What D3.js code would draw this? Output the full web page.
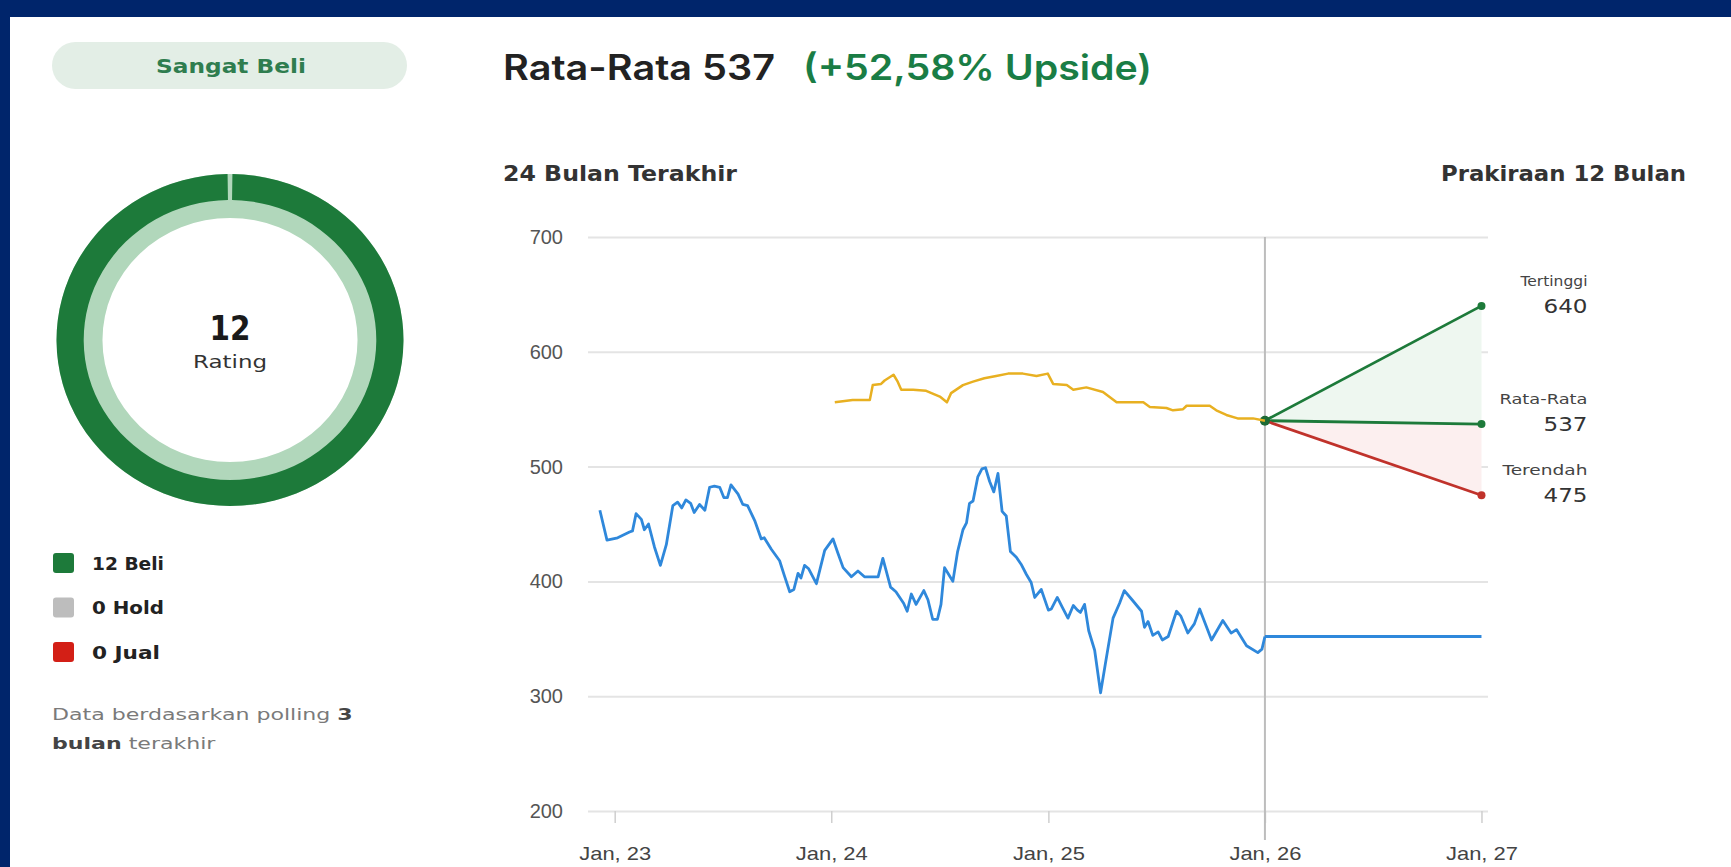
<!DOCTYPE html>
<html>
<head>
<meta charset="utf-8">
<script src="https://cdnjs.cloudflare.com/ajax/libs/d3/7.8.5/d3.min.js"></script>
<style>
  html, body { margin: 0; padding: 0; background: #00256b; }
  svg { display: block; }
</style>
</head>
<body>
<svg id="chart" width="1731" height="867"></svg>
<script>
// ---- data ----
var priceDates = ["2022-12-07","2022-12-19","2023-01-06","2023-01-26","2023-01-31","2023-02-06","2023-02-15","2023-02-20","2023-02-27","2023-03-09",
  "2023-03-19","2023-03-29","2023-04-09","2023-04-17","2023-04-24","2023-05-01","2023-05-09","2023-05-15","2023-05-24","2023-06-02",
  "2023-06-10","2023-06-18","2023-06-27","2023-07-04","2023-07-10","2023-07-16","2023-07-28","2023-08-05","2023-08-13","2023-08-25",
  "2023-09-05","2023-09-10","2023-09-22","2023-10-06","2023-10-14","2023-10-23","2023-10-30","2023-11-06","2023-11-11","2023-11-17",
  "2023-11-24","2023-12-07","2023-12-21","2024-01-04","2024-01-12","2024-01-21","2024-02-04","2024-02-15","2024-02-26","2024-03-20",
  "2024-03-28","2024-04-10","2024-04-19","2024-05-02","2024-05-08","2024-05-15","2024-05-23","2024-06-05","2024-06-12","2024-06-20",
  "2024-06-28","2024-07-04","2024-07-10","2024-07-17","2024-07-24","2024-08-01","2024-08-10","2024-08-16","2024-08-21","2024-08-27",
  "2024-09-04","2024-09-11","2024-09-17","2024-09-24","2024-10-01","2024-10-08","2024-10-15","2024-10-22","2024-10-29","2024-11-08",
  "2024-11-16","2024-11-25","2024-12-03","2024-12-09","2024-12-20","2025-01-01","2025-01-06","2025-01-16","2025-01-25","2025-02-03",
  "2025-02-12","2025-02-19","2025-02-24","2025-03-03","2025-03-10","2025-03-20","2025-03-30","2025-04-07","2025-04-20","2025-05-01",
  "2025-05-09","2025-05-22","2025-06-07","2025-06-12","2025-06-18","2025-06-26","2025-07-05","2025-07-12","2025-07-22","2025-08-05",
  "2025-08-12","2025-08-24","2025-09-04","2025-09-13","2025-10-03","2025-10-22","2025-11-05","2025-11-14","2025-12-01","2025-12-20",
  "2025-12-27","2026-01-01"];
var priceValues = [462,436,438,443,444,459,454,445,450,430,
  414,432,466,469,464,471,468,460,467,462,
  482,483,482,473,473,484,476,467,466,453,
  437,438,428,418,405,391,393,407,403,414,
  411,398,427,437,425,412,404,409,404,404,
  420,395,391,381,374,389,380,392,384,367,
  367,380,412,406,400,426,445,451,468,470,
  491,498,499,487,478,494,461,457,426,421,
  415,406,399,386,393,375,376,386,377,368,
  379,375,373,380,357,340,303,328,368,381,
  392,384,374,360,365,353,356,349,352,374,
  370,355,363,376,349,366,355,358,344,338,
  341,352];

var targetDates = ["2024-01-07","2024-02-06","2024-03-06","2024-03-11","2024-03-25","2024-03-31","2024-04-15","2024-04-22","2024-04-28","2024-05-18",
  "2024-06-09","2024-07-02","2024-07-14","2024-07-21","2024-08-10","2024-08-27","2024-09-15","2024-10-05","2024-10-25","2024-11-19",
  "2024-12-12","2024-12-31","2025-01-09","2025-02-01","2025-02-12","2025-03-06","2025-04-03","2025-04-26","2025-06-10","2025-06-21",
  "2025-07-19","2025-07-30","2025-08-16","2025-08-22","2025-09-30","2025-10-11","2025-10-28","2025-11-16","2025-12-12","2026-01-01"];
var targetValues = [556,558,558,571,572,575,580,574,567,567,
  566,561,556,564,571,574,577,579,581,581,
  579,581,572,571,567,569,565,556,556,552,
  551,549,550,553,553,549,545,542,542,540];

var nowDate = "2026-01-01", forecastEndDate = "2027-01-01";
var currentPrice = 352, forecastStart = 540;
var forecastNames = ["Tertinggi", "Rata-Rata", "Terendah"];
var forecastValues = [640, 537, 475];

var yTicks = [200, 300, 400, 500, 600, 700];
var xTickDates = ["2023-01-01", "2024-01-01", "2025-01-01", "2026-01-01", "2027-01-01"];
var xTickLabels = ["Jan, 23", "Jan, 24", "Jan, 25", "Jan, 26", "Jan, 27"];

var ratingNames = ["Beli", "Hold", "Jual"];
var ratingCounts = [12, 0, 0];
var ratingColors = ["#1d7a3a", "#bdbdbd", "#d31f16"];

// ---- setup ----
var parse = d3.utcParse("%Y-%m-%d");
var svg = d3.select("#chart");
var WIDE = "'DejaVu Sans', sans-serif";

// the source uses a very wide typeface, so stretch text runs to its measured widths
function fit(sel, w) {
    sel.attr("textLength", w).attr("lengthAdjust", "spacingAndGlyphs");
}

svg.append("rect")
    .attr("x", 10).attr("y", 17)
    .attr("width", 1721).attr("height", 850)
    .attr("fill", "#ffffff");

var plotLeft = 588, plotRight = 1488;
var x = d3.scaleUtc()
    .domain([parse("2022-11-17"), parse("2027-01-12")])
    .range([plotLeft, plotRight]);
var y = d3.scaleLinear()
    .domain([200, 700])
    .range([811, 237]);

// ---- left panel: rating ----
var left = svg.append("g");

left.append("rect")
    .attr("x", 52).attr("y", 42)
    .attr("width", 355).attr("height", 47)
    .attr("rx", 23.5)
    .attr("fill", "#e3eee6");
left.append("text")
    .attr("x", 231).attr("y", 66)
    .attr("text-anchor", "middle")
    .attr("dominant-baseline", "central")
    .attr("font-family", WIDE)
    .attr("font-weight", 700)
    .attr("font-size", 19)
    .attr("fill", "#2f7d4f")
    .text("Sangat Beli")
    .call(fit, 150);

var donut = left.append("g").attr("transform", "translate(230,340) scale(1.045,1)");
var rOuter = 166, rMid = 140, rInner = 122;

donut.append("path")
    .attr("d", d3.arc().innerRadius(rInner).outerRadius(rOuter).startAngle(0).endAngle(2 * Math.PI)())
    .attr("fill", "#b1d7bb");

var pie = d3.pie().sort(null).startAngle(0.014).endAngle(2 * Math.PI - 0.014);
donut.selectAll("path.slice")
    .data(pie(ratingCounts))
    .join("path")
    .attr("class", "slice")
    .attr("d", d3.arc().innerRadius(rMid).outerRadius(rOuter))
    .attr("fill", function(d, i) { return ratingColors[i]; });

left.append("text")
    .attr("x", 230).attr("y", 328)
    .attr("text-anchor", "middle")
    .attr("dominant-baseline", "central")
    .attr("font-family", WIDE)
    .attr("font-weight", 700)
    .attr("font-size", 33)
    .attr("fill", "#1a1a1a")
    .text(d3.sum(ratingCounts))
    .call(fit, 41);
left.append("text")
    .attr("x", 230).attr("y", 362)
    .attr("text-anchor", "middle")
    .attr("dominant-baseline", "central")
    .attr("font-family", WIDE)
    .attr("font-size", 17)
    .attr("fill", "#333")
    .text("Rating")
    .call(fit, 74);

var legendWidths = [72, 72, 68];
var legend = left.selectAll("g.leg")
    .data(ratingNames)
    .join("g")
    .attr("class", "leg")
    .attr("transform", function(d, i) { return "translate(53," + (563 + i * 44.5) + ")"; });
legend.append("rect")
    .attr("y", -10).attr("width", 21).attr("height", 20).attr("rx", 3)
    .attr("fill", function(d, i) { return ratingColors[i]; });
legend.append("text")
    .attr("x", 39)
    .attr("dominant-baseline", "central")
    .attr("font-family", WIDE)
    .attr("font-weight", 700)
    .attr("font-size", 18)
    .attr("fill", "#222")
    .text(function(d, i) { return ratingCounts[i] + " " + d; })
    .each(function(d, i) { fit(d3.select(this), legendWidths[i]); });

var note = left.append("g");
var noteText = note.append("text")
    .attr("font-family", WIDE)
    .attr("font-size", 16)
    .attr("fill", "#7a7a7a");
var l1 = noteText.append("tspan").attr("x", 52).attr("y", 720);
l1.append("tspan").text("Data berdasarkan polling ");
l1.append("tspan").attr("font-weight", 700).attr("fill", "#444").text("3");
var l2 = noteText.append("tspan").attr("x", 52).attr("y", 749);
l2.append("tspan").attr("font-weight", 700).attr("fill", "#444").text("bulan");
l2.append("tspan").text(" terakhir");
var noteK = 301 / noteText.node().getBBox().width;
note.attr("transform", "translate(52,0) scale(" + noteK + ",1) translate(-52,0)");

// ---- headings ----
var t1 = svg.append("text")
    .attr("x", 503).attr("y", 80)
    .attr("font-family", "Inter, sans-serif")
    .attr("font-weight", 600)
    .attr("font-size", 35)
    .attr("fill", "#222")
    .text("Rata-Rata " + forecastValues[1])
    .call(fit, 272);
svg.append("text")
    .attr("x", 503 + 272 + 28).attr("y", 80)
    .attr("font-family", "Inter, sans-serif")
    .attr("font-weight", 600)
    .attr("font-size", 35)
    .attr("fill", "#1a7d45")
    .text("(+52,58% Upside)")
    .call(fit, 349);

svg.append("text")
    .attr("x", 503).attr("y", 181)
    .attr("font-family", WIDE)
    .attr("font-weight", 700)
    .attr("font-size", 21)
    .attr("fill", "#333")
    .text("24 Bulan Terakhir")
    .call(fit, 234);
svg.append("text")
    .attr("x", 1441).attr("y", 181)
    .attr("font-family", WIDE)
    .attr("font-weight", 700)
    .attr("font-size", 21)
    .attr("fill", "#333")
    .text("Prakiraan 12 Bulan")
    .call(fit, 245);

// ---- axes & grid ----
var yAxis = svg.append("g")
    .attr("transform", "translate(" + plotLeft + ",0)")
    .call(d3.axisLeft(y).tickValues(yTicks).tickSizeInner(-(plotRight - plotLeft)).tickSizeOuter(0).tickPadding(25));
yAxis.select(".domain").remove();
yAxis.selectAll(".tick line").attr("stroke", "#e4e4e4").attr("stroke-width", 2);
yAxis.selectAll(".tick text")
    .attr("font-family", "'Liberation Sans', Arial, sans-serif")
    .attr("font-size", 20)
    .attr("fill", "#555");

var xAxis = svg.append("g")
    .attr("transform", "translate(0," + y(200) + ")")
    .call(d3.axisBottom(x)
        .tickValues(xTickDates.map(parse))
        .tickFormat(function(d, i) { return xTickLabels[i]; })
        .tickSize(12).tickPadding(24));
xAxis.select(".domain").remove();
xAxis.selectAll(".tick line").attr("stroke", "#cfcfcf").attr("stroke-width", 1.5);
xAxis.selectAll(".tick text")
    .attr("font-family", "'Liberation Sans', Arial, sans-serif")
    .attr("font-size", 19)
    .attr("fill", "#444")
    .call(fit, 72);

// now marker
svg.append("line")
    .attr("x1", x(parse(nowDate))).attr("x2", x(parse(nowDate)))
    .attr("y1", y(700)).attr("y2", 840)
    .attr("stroke", "#bdbdbd").attr("stroke-width", 2);

// ---- forecast fan ----
var tNow = parse(nowDate), tEnd = parse(forecastEndDate);
var fan = svg.append("g");
var area = d3.area()
    .x(function(d) { return x(d.t); })
    .y0(function(d) { return y(d.a); })
    .y1(function(d) { return y(d.b); });

fan.append("path")
    .attr("d", area([{ t: tNow, a: forecastStart, b: forecastStart }, { t: tEnd, a: forecastValues[1], b: forecastValues[0] }]))
    .attr("fill", "#eef7f0");
fan.append("path")
    .attr("d", area([{ t: tNow, a: forecastStart, b: forecastStart }, { t: tEnd, a: forecastValues[1], b: forecastValues[2] }]))
    .attr("fill", "#fcefef");

var line = d3.line()
    .x(function(d) { return x(d.t); })
    .y(function(d) { return y(d.v); });

// price history + flat projection
var priceData = priceDates.map(function(d, i) { return { t: parse(d), v: priceValues[i] }; });
svg.append("path")
    .attr("d", line(priceData))
    .attr("fill", "none").attr("stroke", "#2f88db").attr("stroke-width", 2.8)
    .attr("stroke-linejoin", "round");
svg.append("path")
    .attr("d", line([{ t: tNow, v: currentPrice }, { t: tEnd, v: currentPrice }]))
    .attr("fill", "none").attr("stroke", "#2f88db").attr("stroke-width", 2.8);

// average target history
var targetData = targetDates.map(function(d, i) { return { t: parse(d), v: targetValues[i] }; });
svg.append("path")
    .attr("d", line(targetData))
    .attr("fill", "none").attr("stroke", "#e8b021").attr("stroke-width", 2.5)
    .attr("stroke-linejoin", "round");

var fanColors = ["#1d7a3a", "#1d7a3a", "#c0322b"];
forecastValues.forEach(function(v, i) {
    fan.append("path")
        .attr("d", line([{ t: tNow, v: forecastStart }, { t: tEnd, v: v }]))
        .attr("stroke", fanColors[i]).attr("stroke-width", 2.8).attr("fill", "none");
});
fan.selectAll("circle.end")
    .data(forecastValues)
    .join("circle")
    .attr("class", "end")
    .attr("cx", x(tEnd))
    .attr("cy", function(d) { return y(d); })
    .attr("r", 4)
    .attr("fill", function(d, i) { return fanColors[i]; });
fan.append("circle")
    .attr("cx", x(tNow)).attr("cy", y(forecastStart))
    .attr("r", 5).attr("fill", "#1d6b35");

var nameWidths = [67, 88, 85];
var labels = fan.selectAll("g.flab")
    .data(forecastValues)
    .join("g")
    .attr("class", "flab")
    .attr("transform", function(d) { return "translate(" + (x(tEnd) + 106) + "," + y(d) + ")"; });
labels.append("text")
    .attr("y", -25)
    .attr("text-anchor", "end")
    .attr("dominant-baseline", "central")
    .attr("font-family", WIDE)
    .attr("font-size", 13.5)
    .attr("fill", "#444")
    .text(function(d, i) { return forecastNames[i]; })
    .each(function(d, i) { fit(d3.select(this), nameWidths[i]); });
labels.append("text")
    .attr("text-anchor", "end")
    .attr("dominant-baseline", "central")
    .attr("font-family", WIDE)
    .attr("font-size", 20)
    .attr("fill", "#333")
    .text(function(d) { return d; })
    .call(fit, 44);
</script>
</body>
</html>
